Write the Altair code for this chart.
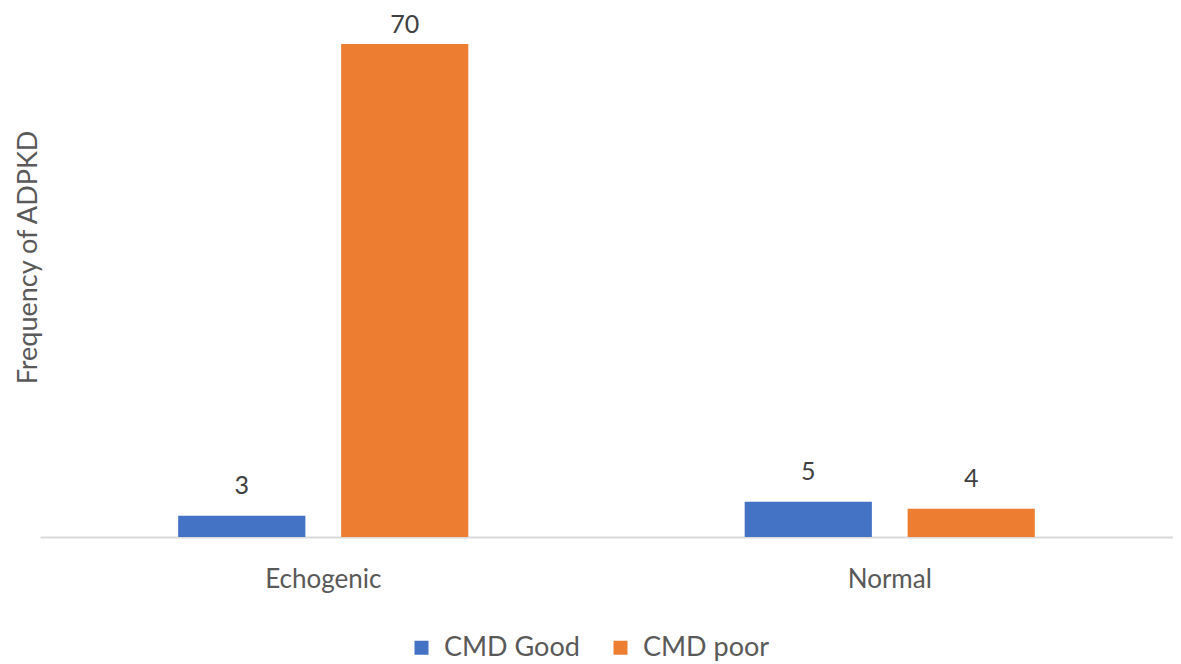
import altair as alt
import pandas as pd

categories = ["Echogenic", "Echogenic", "Normal", "Normal"]
series = ["CMD Good", "CMD poor", "CMD Good", "CMD poor"]
values = [3, 70, 5, 4]

df = pd.DataFrame({"category": categories, "series": series, "value": values})

FONT = "Lato"
colors = ["#4472C4", "#ED7D31"]

x = alt.X("category:N", title=None,
          scale=alt.Scale(paddingInner=0, paddingOuter=0),
          axis=alt.Axis(labelAngle=0, ticks=False, domainColor="#D9D9D9", domainWidth=2,
                        labelFontSize=26, labelColor="#595959", labelFont=FONT, labelPadding=29))
xo = alt.XOffset("series:N", scale=alt.Scale(paddingInner=0.2195, paddingOuter=0.848))
y = alt.Y("value:Q", scale=alt.Scale(domain=[0, 70], nice=False),
          axis=alt.Axis(title="Frequency of ADPKD", labels=False, ticks=False, domain=False, grid=False,
                        titleFontSize=27, titleFont=FONT, titleColor="#595959", titleFontWeight="normal",
                        titleX=2, titleY=213))

base = alt.Chart(df).encode(x=x, xOffset=xo, y=y)

bars = base.mark_bar().encode(
    color=alt.Color("series:N", scale=alt.Scale(domain=["CMD Good", "CMD poor"], range=colors),
                    legend=alt.Legend(title=None, orient="none", direction="horizontal",
                                      legendX=368, legendY=590, symbolType="square", symbolSize=196,
                                      symbolStrokeWidth=0, labelFontSize=27, labelFont=FONT,
                                      labelColor="#595959", columnPadding=27, labelOffset=9))
)

text_enc = dict(text=alt.Text("value:Q"))
labels_low = base.transform_joinaggregate(vmax="max(value)").transform_filter(
    alt.datum.value < alt.datum.vmax
).mark_text(baseline="alphabetic", dy=-22, fontSize=25, font=FONT, color="#404040").encode(**text_enc)
labels_top = base.transform_joinaggregate(vmax="max(value)").transform_filter(
    alt.datum.value == alt.datum.vmax
).mark_text(baseline="alphabetic", dy=-11, fontSize=25, font=FONT, color="#404040").encode(**text_enc)

chart = (bars + labels_low + labels_top).properties(
    width=1133, height=493,
    autosize=alt.AutoSizeParams(type="none"),
    padding={"left": 32, "top": 36, "right": 0, "bottom": 124},
).configure_view(stroke=None)

chart.save("out.html", embed_options={"renderer": "svg", "actions": False})
